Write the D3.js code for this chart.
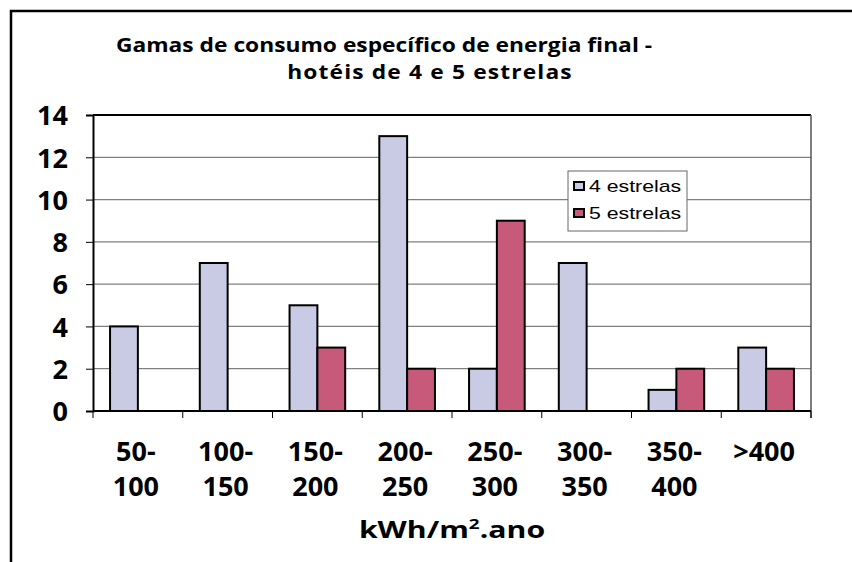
<!DOCTYPE html>
<html>
<head>
<meta charset="utf-8">
<script src="https://cdn.jsdelivr.net/npm/d3@7"></script>
<style>
  html, body { margin: 0; padding: 0; background: #fff; }
  svg { display: block; }
</style>
</head>
<body>
<svg id="chart" width="852" height="562"></svg>
<script>
// Energy-consumption ranges (kWh/m².ano) and hotel counts per star rating
const categories = [["50-", "100"], ["100-", "150"], ["150-", "200"], ["200-", "250"],
                    ["250-", "300"], ["300-", "350"], ["350-", "400"], [">400"]];
const seriesNames = ["4 estrelas", "5 estrelas"];
const fourStars = [4, 7, 5, 13, 2, 7, 1, 3];
const fiveStars = [0, 0, 3, 2, 9, 0, 2, 2];
const yTicks = [0, 2, 4, 6, 8, 10, 12, 14];
const colors = ["#C9CAE3", "#C75A7B"];

const svg = d3.select("#chart");
const font = "'Open Sans', 'DejaVu Sans', sans-serif";

// text drawn with a horizontal stretch, anchored at (cx, y)
function wideText(parent, cx, y, sx, anchor) {
  return parent.append("g")
    .attr("transform", `translate(${cx},${y}) scale(${sx},1)`)
    .append("text").attr("x", 0).attr("y", 0)
    .attr("text-anchor", anchor || "middle");
}

// outer frame (runs past the bottom/right of the page)
svg.append("rect")
  .attr("x", 11).attr("y", 11).attr("width", 900).attr("height", 600)
  .attr("fill", "none").attr("stroke", "#000").attr("stroke-width", 2.5);

const plot = { left: 93, right: 811, top: 115, bottom: 411 };

const x = d3.scaleBand()
  .domain(d3.range(categories.length))
  .range([plot.left, plot.right])
  .paddingInner(0.38).paddingOuter(0.19);
const xSub = d3.scaleBand().domain([0, 1]).range([0, x.bandwidth()]);
const y = d3.scaleLinear().domain([0, 14]).range([plot.bottom, plot.top]);

// title (two lines)
wideText(svg, 384, 52, 1.14)
  .attr("font-family", font).attr("font-weight", "bold")
  .attr("font-size", 20).attr("fill", "#000")
  .text("Gamas de consumo específico de energia final -");
wideText(svg, 430, 79, 1.14)
  .attr("font-family", font).attr("font-weight", "bold")
  .attr("font-size", 20).attr("letter-spacing", 1).attr("fill", "#000")
  .text("hotéis de 4 e 5 estrelas");

// gridlines
svg.append("g")
  .selectAll("line").data(yTicks.filter(t => t > 0 && t < 14)).join("line")
  .attr("x1", plot.left).attr("x2", plot.right)
  .attr("y1", d => y(d)).attr("y2", d => y(d))
  .attr("stroke", "#808080").attr("stroke-width", 1.2);

// plot frame: top and right
svg.append("line").attr("x1", plot.left).attr("x2", plot.right)
  .attr("y1", plot.top).attr("y2", plot.top)
  .attr("stroke", "#000").attr("stroke-width", 2);
svg.append("line").attr("x1", plot.right).attr("x2", plot.right)
  .attr("y1", plot.top).attr("y2", plot.bottom + 7)
  .attr("stroke", "#555").attr("stroke-width", 1.5);

// bars
const series = [fourStars, fiveStars];
series.forEach((vals, si) => {
  svg.append("g").selectAll("rect")
    .data(vals.map((v, i) => ({ v, i })).filter(d => d.v > 0))
    .join("rect")
    .attr("x", d => x(d.i) + xSub(si))
    .attr("width", xSub.bandwidth())
    .attr("y", d => y(d.v))
    .attr("height", d => y(0) - y(d.v))
    .attr("fill", colors[si])
    .attr("stroke", "#000").attr("stroke-width", 2);
});

// y axis
const yAxis = svg.append("g")
  .attr("transform", `translate(${plot.left},0)`)
  .call(d3.axisLeft(y).tickValues(yTicks).tickSize(7).tickPadding(18).tickFormat(d3.format("d")));
yAxis.select(".domain").attr("stroke", "#000").attr("stroke-width", 2);
yAxis.selectAll(".tick line").attr("stroke", "#000").attr("stroke-width", 1);
yAxis.selectAll("text").attr("font-family", font).attr("font-weight", "bold")
  .attr("font-size", 27).attr("fill", "#000").attr("dy", "0.36em");

// x axis baseline with ticks between categories
const xAxisG = svg.append("g");
xAxisG.append("line").attr("x1", plot.left).attr("x2", plot.right)
  .attr("y1", plot.bottom).attr("y2", plot.bottom)
  .attr("stroke", "#000").attr("stroke-width", 2);
xAxisG.selectAll("line.tk").data(d3.range(categories.length + 1)).join("line")
  .attr("class", "tk")
  .attr("x1", i => plot.left + i * x.step())
  .attr("x2", i => plot.left + i * x.step())
  .attr("y1", plot.bottom).attr("y2", plot.bottom + 7)
  .attr("stroke", "#000").attr("stroke-width", 1);

// category labels (two lines)
const labels = svg.append("g").selectAll("text").data(categories).join("text")
  .attr("text-anchor", "middle")
  .attr("font-family", font).attr("font-weight", "bold")
  .attr("font-size", 27).attr("fill", "#000");
labels.each(function(lines, i) {
  const t = d3.select(this);
  lines.forEach((ln, j) => {
    t.append("tspan").attr("x", x(i) + x.bandwidth() / 2 - 2).attr("y", 461 + j * 35).text(ln);
  });
});

// axis title
const axTitle = wideText(svg, 452, 538, 1.26)
  .attr("font-family", font).attr("font-weight", "bold")
  .attr("font-size", 24).attr("fill", "#000");
axTitle.append("tspan").text("kWh/m");
axTitle.append("tspan").attr("font-size", 15).attr("dy", -9).text("2");
axTitle.append("tspan").attr("dy", 9).text(".ano");

// legend
const lg = svg.append("g").attr("transform", "translate(568,171)");
lg.append("rect").attr("width", 119).attr("height", 60)
  .attr("fill", "#fff").attr("stroke", "#666").attr("stroke-width", 1);
seriesNames.forEach((name, i) => {
  const row = lg.append("g").attr("transform", `translate(0,${15 + i * 27})`);
  row.append("rect").attr("x", 6).attr("y", -4).attr("width", 10).attr("height", 8)
    .attr("fill", colors[i]).attr("stroke", "#000").attr("stroke-width", 2);
  wideText(row, 21, 6, 1.33, "start")
    .attr("font-family", "Arial, 'Liberation Sans', sans-serif")
    .attr("font-size", 16).attr("fill", "#000").text(name);
});
</script>
</body>
</html>
